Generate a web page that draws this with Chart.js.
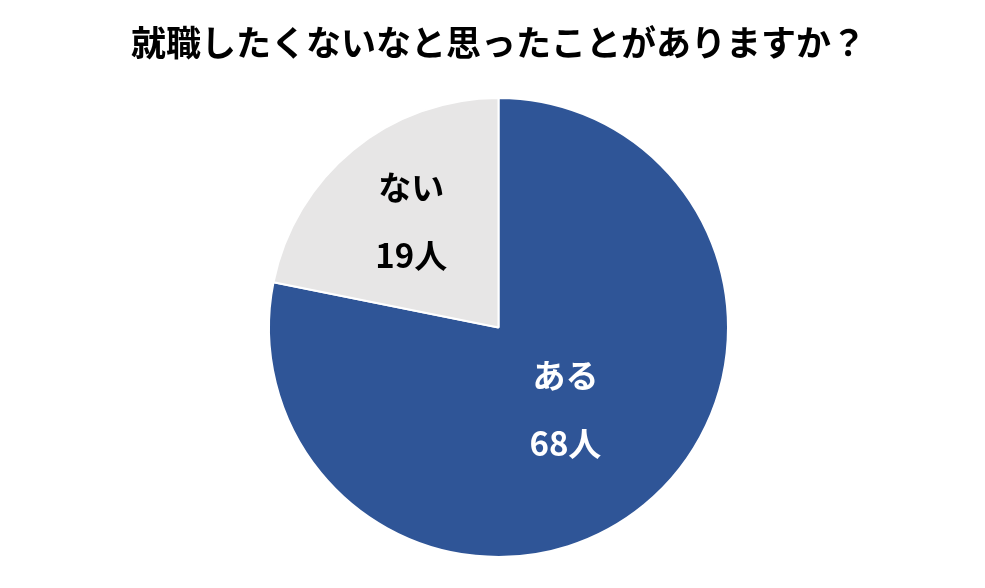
<!DOCTYPE html>
<html>
<head>
<meta charset="utf-8">
<script src="https://cdn.jsdelivr.net/npm/chart.js@4"></script>
<style>
    html, body { margin: 0; padding: 0; background: #fff; }
    #wrap { width: 985px; height: 588px; }
</style>
</head>
<body>
<div id="wrap"><canvas id="pieChart"></canvas></div>
<script>
const titleText = '就職したくないなと思ったことがありますか？';
const categories = ['ある', 'ない'];
const counts = [68, 19];
const sliceColors = ['#2F5597', '#E7E6E6'];
const labelColors = ['#ffffff', '#000000'];
const labelRadius = [0.46, 0.6];   // fraction of radius where the label sits

const fontFamily = '"Noto Sans CJK JP", "Noto Sans", sans-serif';

// draw two-line labels inside slices
const sliceLabels = {
    id: 'sliceLabels',
    afterDatasetsDraw(chart) {
        const ctx = chart.ctx;
        const meta = chart.getDatasetMeta(0);
        meta.data.forEach((arc, i) => {
            const mid = (arc.startAngle + arc.endAngle) / 2;
            const r = arc.outerRadius * labelRadius[i];
            const x = arc.x + Math.cos(mid) * r;
            const y = arc.y + Math.sin(mid) * r;
            ctx.save();
            ctx.fillStyle = labelColors[i];
            ctx.font = 'bold 33px ' + fontFamily;
            ctx.textAlign = 'center';
            ctx.textBaseline = 'middle';
            ctx.fillText(categories[i], x, y - 34);
            ctx.fillText(counts[i] + '人', x, y + 34);
            ctx.restore();
        });
    }
};

new Chart(document.getElementById('pieChart').getContext('2d'), {
    type: 'pie',
    data: {
        labels: categories,
        datasets: [{
            data: counts,
            backgroundColor: sliceColors,
            borderColor: '#ffffff',
            borderWidth: 2
        }]
    },
    options: {
        responsive: true,
        maintainAspectRatio: false,
        animation: false,
        layout: { padding: { top: 0, bottom: 30, left: 12, right: 0 } },
        plugins: {
            legend: { display: false },
            tooltip: { enabled: false },
            title: {
                display: true,
                text: titleText,
                color: '#000',
                font: { family: fontFamily, size: 35, weight: 'bold' },
                padding: { top: 22, bottom: 33 }
            }
        }
    },
    plugins: [sliceLabels]
});
</script>
</body>
</html>
